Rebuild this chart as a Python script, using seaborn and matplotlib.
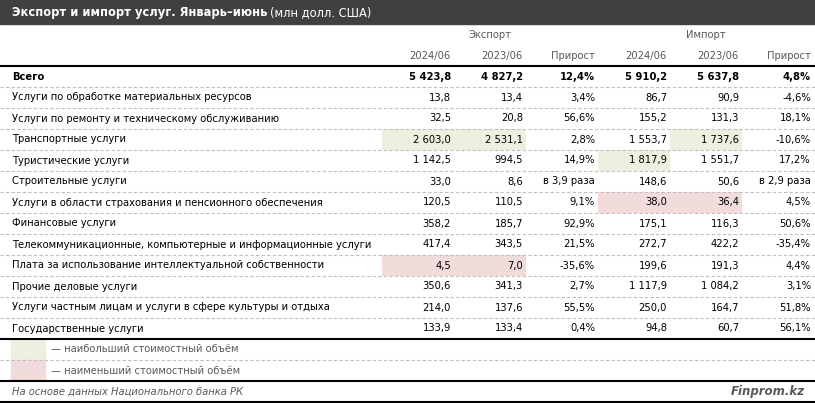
import numpy as np
import pandas as pd
import matplotlib.pyplot as plt
import seaborn as sns
from matplotlib.colors import ListedColormap

# Данные таблицы
categories = [
    'Всего',
    'Услуги по обработке материальных ресурсов',
    'Услуги по ремонту и техническому обслуживанию',
    'Транспортные услуги',
    'Туристические услуги',
    'Строительные услуги',
    'Услуги в области страхования и пенсионного обеспечения',
    'Финансовые услуги',
    'Телекоммуникационные, компьютерные и информационные услуги',
    'Плата за использование интеллектуальной собственности',
    'Прочие деловые услуги',
    'Услуги частным лицам и услуги в сфере культуры и отдыха',
    'Государственные услуги',
]
export_2024 = [5423.8, 13.8, 32.5, 2603.0, 1142.5, 33.0, 120.5, 358.2, 417.4, 4.5, 350.6, 214.0, 133.9]
export_2023 = [4827.2, 13.4, 20.8, 2531.1, 994.5, 8.6, 110.5, 185.7, 343.5, 7.0, 341.3, 137.6, 133.4]
export_growth = ['12,4%', '3,4%', '56,6%', '2,8%', '14,9%', 'в 3,9 раза', '9,1%', '92,9%',
                 '21,5%', '-35,6%', '2,7%', '55,5%', '0,4%']
import_2024 = [5910.2, 86.7, 155.2, 1553.7, 1817.9, 148.6, 38.0, 175.1, 272.7, 199.6, 1117.9, 250.0, 94.8]
import_2023 = [5637.8, 90.9, 131.3, 1737.6, 1551.7, 50.6, 36.4, 116.3, 422.2, 191.3, 1084.2, 164.7, 60.7]
import_growth = ['4,8%', '-4,6%', '18,1%', '-10,6%', '17,2%', 'в 2,9 раза', '4,5%', '50,6%',
                 '-35,4%', '4,4%', '3,1%', '51,8%', '56,1%']
years = ['2024/06', '2023/06', 'Прирост']

df = pd.DataFrame({
    'exp24': export_2024, 'exp23': export_2023, 'expg': export_growth,
    'imp24': import_2024, 'imp23': import_2023, 'impg': import_growth,
}, index=categories)


def fmt(v):
    return f'{v:,.1f}'.replace(',', ' ').replace('.', ',')


# Коды подсветки: 1 - максимум, 2 - минимум (без строки "Всего")
codes = np.zeros((len(categories), 6))
for j, col in enumerate(['exp24', 'exp23', None, 'imp24', 'imp23', None]):
    if col is None:
        continue
    vals = df[col].values[1:]
    codes[1 + vals.argmax(), j] = 1
    codes[1 + vals.argmin(), j] = 2

sns.set_theme(style='white')
plt.rcParams['font.family'] = ['DejaVu Sans']

W, H = 815, 403
fig = plt.figure(figsize=(W / 100, H / 100), dpi=100)

row_h = 21
top = 66
x0 = 382
col_w = 72
n = len(categories)

# Фон подсветки через heatmap
hax = fig.add_axes([x0 / W, 1 - (top + n * row_h) / H, 6 * col_w / W, n * row_h / H])
sns.heatmap(codes, ax=hax, cmap=ListedColormap(['#ffffff', '#ebf1de', '#f2dcdb']),
            vmin=0, vmax=2, cbar=False, xticklabels=False, yticklabels=False)
hax.set_zorder(0)

ax = fig.add_axes([0, 0, 1, 1])
ax.set_zorder(1)
ax.patch.set_alpha(0)
ax.set_xlim(0, W)
ax.set_ylim(H, 0)
ax.axis('off')

fs = 7.2
dark = '#000000'
grey_hdr = '#595959'

# Заголовок
ax.add_patch(plt.Rectangle((0, 0), W, 24, color='#404040', zorder=0))
t1 = ax.text(12, 12.5, 'Экспорт и импорт услуг. Январь–июнь', color='white', fontsize=8.3,
             fontweight='bold', va='center', ha='left')
fig.canvas.draw()
bb = t1.get_window_extent(renderer=fig.canvas.get_renderer())
ax.text(bb.x1 + 3, 12.5, '(млн долл. США)', color='white', fontsize=8.3, va='center', ha='left')

# Шапка столбцов
ax.text(x0 + 1.5 * col_w, 35, 'Экспорт', color=grey_hdr, fontsize=fs, ha='center', va='center')
ax.text(x0 + 4.5 * col_w, 35, 'Импорт', color=grey_hdr, fontsize=fs, ha='center', va='center')
for j in range(6):
    ax.text(x0 + (j + 1) * col_w - 3, 56, years[j % 3], color=grey_hdr, fontsize=fs,
            ha='right', va='center')

ax.plot([0, W], [top, top], color='black', lw=1.5)

# Строки
for i, cat in enumerate(categories):
    yc = top + (i + 0.5) * row_h
    weight = 'bold' if i == 0 else 'normal'
    ax.text(12, yc, cat, fontsize=fs, fontweight=weight, color=dark, va='center', ha='left')
    row = df.iloc[i]
    cells = [fmt(row['exp24']), fmt(row['exp23']), row['expg'],
             fmt(row['imp24']), fmt(row['imp23']), row['impg']]
    for j, c in enumerate(cells):
        ax.text(x0 + (j + 1) * col_w - 3, yc, c, fontsize=fs, fontweight=weight, color=dark,
                va='center', ha='right')
    if i < n - 1:
        yl = top + (i + 1) * row_h
        ax.plot([0, W], [yl, yl], color='#bfbfbf', lw=0.8, ls=(0, (3, 2)))

y_end = top + n * row_h
ax.plot([0, W], [y_end, y_end], color='black', lw=1.5)

# Легенда
leg = [('#ebf1de', '— наибольший стоимостный объём'), ('#f2dcdb', '— наименьший стоимостный объём')]
for k, (c, lab) in enumerate(leg):
    ys = y_end + k * row_h
    ax.add_patch(plt.Rectangle((11, ys), 34, row_h, color=c, zorder=0))
    ax.text(51, ys + row_h / 2, lab, fontsize=fs, color=grey_hdr, va='center', ha='left')
ax.plot([0, W], [y_end + row_h, y_end + row_h], color='#bfbfbf', lw=0.8, ls=(0, (3, 2)))
ax.plot([0, W], [y_end + 2 * row_h, y_end + 2 * row_h], color='black', lw=1.5)

# Источник
ys = y_end + 2 * row_h
ax.text(12, ys + 10.5, 'На основе данных Национального банка РК', fontsize=fs, fontstyle='italic',
        color=grey_hdr, va='center', ha='left')
ax.text(805, ys + 10.5, 'Finprom.kz', fontsize=8.5, fontstyle='italic', fontweight='bold',
        color='#595959', va='center', ha='right')
ax.plot([0, W], [H - 1, H - 1], color='black', lw=1.5)

fig.savefig('out.png', dpi=100)
